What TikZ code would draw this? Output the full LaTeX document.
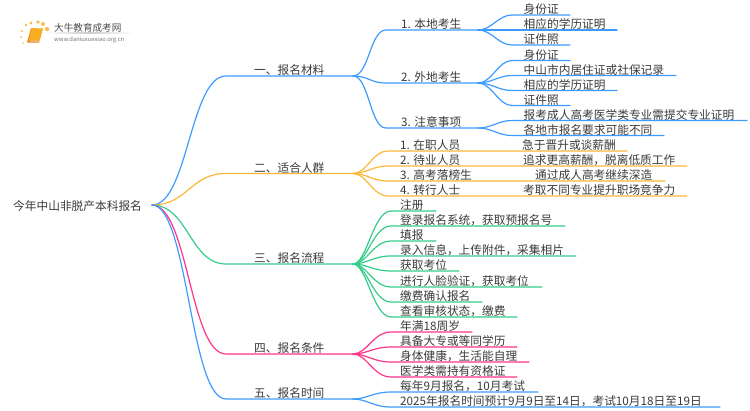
\documentclass[tikz,border=0pt]{standalone}
\usepackage{fontspec}
\setmainfont{Noto Sans CJK SC}
\definecolor{lineblue}{HTML}{3D9BFF}
\definecolor{lineorange}{HTML}{FBB735}
\definecolor{linegreen}{HTML}{33CC8A}
\definecolor{linepink}{HTML}{FF3388}
\definecolor{txtgrey}{HTML}{3A3A3A}
\definecolor{logoorange}{HTML}{F9AE22}
\definecolor{logodark}{HTML}{EE8A1C}
\tikzset{
  lbl/.style={anchor=base west, inner sep=0pt, text=txtgrey, font=\fontsize{11.7}{14}\selectfont},
  wire/.style={line width=1.2pt, line cap=round},
}
\begin{document}
\begin{tikzpicture}[x=1pt, y=-1pt]
    \useasboundingbox (0, 0) rectangle (750, 410);
    % logo
    \foreach \x/\y/\r in {23/43/0.8, 21/37/1, 22/31/1.2, 26/25/1.4, 31/23/1.7, 38/22/1.9, 43/24/2, 47/29/2.2} {
        \fill[logoorange!80] (\x, \y) circle (\r);
    }
    \fill[logodark] (27, 42.5) -- (39, 42.5) -- (42.5, 30) -- (31, 28) -- cycle;
    \fill[logoorange] (29, 40) -- (39.5, 40) -- (43, 28.5) -- (31.5, 28) -- cycle;
    \fill[white!80!logoorange] (30, 41.4) -- (38.6, 41.4) -- (38.9, 40.6) -- (30, 40.6) -- cycle;
    \shade[left color=white, right color=white, middle color=black!20] (45, 32.7) rectangle (133, 33.5);
    \node[anchor=base west, inner sep=0pt, text=black!70, font=\fontsize{9.6}{11}\selectfont] (logo) at (54, 31) {大牛教育成考网};
    \node[anchor=base west, inner sep=0pt, text=black!55, font=\fontsize{5.8}{7}\selectfont] (url) at (54, 41) {www.daniuxuexiao.org.cn};
    % root
    \node[lbl] (root) at (13, 210.5) {今年中山非脱产本科报名};
    \coordinate (rootj) at (152, 205);
    % main branches
    \foreach \n/\y/\c/\t in {a/76/lineblue/一、报名材料, b/173.5/lineorange/二、适合人群, c/264/linegreen/三、报名流程, d/354/linepink/四、报名条件, e/399/lineblue/五、报名时间} {
        \coordinate (\n elbow) at (226, \y);
        \coordinate (\n) at (353, \y);
        \node[lbl] (\n txt) at (254, \y-1.5) {\t};
        \draw[wire, \c] (rootj) .. controls +(36, 0) and +(-36, 0) .. (\n elbow) -- (\n);
    }
    % 一
    \foreach \n/\y/\t in {1/30/1. 本地考生, 2/83/2. 外地考生, 3/128/3. 注意事项} {
        \coordinate (a\n elbow) at (386, \y);
        \coordinate (a\n) at (478, \y);
        \node[lbl] (a\n txt) at (401, \y-1.5) {\t};
        \draw[wire, lineblue] (a) .. controls +(16, 0) and +(-16, 0) .. (a\n elbow) -- (a\n);
    }
    \foreach \p/\n/\y/\e/\t in {a1/1/15/570/身份证, a1/2/30/617/相应的学历证明, a1/3/45/570/证件照, a2/1/60.5/570/身份证, a2/2/75.5/676/中山市内居住证或社保记录, a2/3/90.5/617/相应的学历证明, a2/4/105.5/570/证件照, a3/1/120.5/747/报考成人高考医学类专业需提交专业证明, a3/2/135.5/664/各地市报名要求可能不同} {
        \coordinate (\p\n elbow) at (512, \y);
        \coordinate (\p\n end) at (\e, \y);
        \node[lbl] (\p\n txt) at (523.5, \y-1.5) {\t};
        \draw[wire, lineblue] (\p) .. controls +(14, 0) and +(-14, 0) .. (\p\n elbow) -- (\p\n end);
    }
    % 二
    \foreach \n/\y/\e/\t/\x/\u in {1/151/627/1. 在职人员/522/急于晋升或谈薪酬, 2/166/687/2. 待业人员/523/追求更高薪酬，脱离低质工作, 3/181/665/3. 高考落榜生/535/通过成人高考继续深造, 4/196/687/4. 转行人士/523/考取不同专业提升职场竞争力} {
        \coordinate (b\n elbow) at (388, \y);
        \coordinate (b\n end) at (\e, \y);
        \node[lbl] (b\n txt) at (400, \y-1.5) {\t};
        \node[lbl] (b\n note) at (\x, \y-1.5) {\u};
        \draw[wire, lineorange] (b) .. controls +(14, 0) and +(-16, 0) .. (b\n elbow) -- (b\n end);
    }
    % 三
    \foreach \n/\y/\e/\t in {1/211/436/注册, 2/226/565/登录报名系统，获取预报名号, 3/241/436/填报, 4/256/576/录入信息，上传附件，采集相片, 5/271/459/获取考位, 6/287/542/进行人脸验证，获取考位, 7/302/482/缴费确认报名, 8/317/517/查看审核状态，缴费} {
        \coordinate (c\n elbow) at (391, \y);
        \coordinate (c\n end) at (\e, \y);
        \node[lbl] (c\n txt) at (400, \y-1.5) {\t};
        \draw[wire, linegreen] (c) .. controls +(14, 0) and +(-18, 0) .. (c\n elbow) -- (c\n end);
    }
    % 四
    \foreach \n/\y/\e/\t in {1/332/472/年满18周岁, 2/347/517/具备大专或等同学历, 3/362/529/身体健康，生活能自理, 4/377/517/医学类需持有资格证} {
        \coordinate (d\n elbow) at (391, \y);
        \coordinate (d\n end) at (\e, \y);
        \node[lbl] (d\n txt) at (400, \y-1.5) {\t};
        \draw[wire, linepink] (d) .. controls +(14, 0) and +(-18, 0) .. (d\n elbow) -- (d\n end);
    }
    % 五
    \foreach \n/\y/\e/\t in {1/392/538/每年9月报名，10月考试, 2/407/720/2025年报名时间预计9月9日至14日，考试10月18日至19日} {
        \coordinate (e\n elbow) at (391, \y);
        \coordinate (e\n end) at (\e, \y);
        \node[lbl] (e\n txt) at (400, \y-1.5) {\t};
        \draw[wire, lineblue] (e) .. controls +(14, 0) and +(-18, 0) .. (e\n elbow) -- (e\n end);
    }
\end{tikzpicture}
\end{document}
